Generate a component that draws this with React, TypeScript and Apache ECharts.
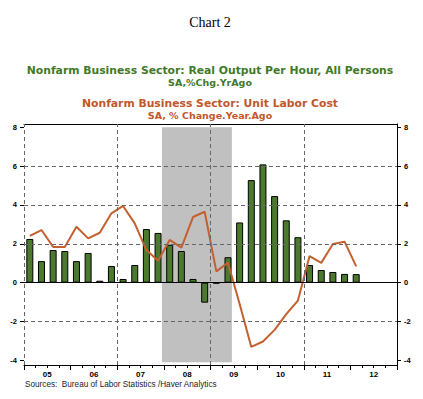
import React, { useEffect, useRef } from 'react';
import * as echarts from 'echarts';

const yearLabels = ['05', '06', '07', '08', '09', '10', '11', '12'];
const quarterLabels = yearLabels.flatMap((y) => ['Q1', 'Q2', 'Q3', 'Q4'].map((q) => `20${y}${q}`));

// Nonfarm Business Sector: Real Output Per Hour, All Persons (SA, % Chg Yr Ago)
const outputPerHour = [
  2.25, 1.11, 1.68, 1.63,
  1.11, 1.53, 0.10, 0.86,
  0.19, 0.91, 2.76, 2.56,
  1.95, 1.63, 0.19, -1.03,
  -0.05, 1.31, 3.10, 5.28,
  6.09, 4.46, 3.21, 2.34,
  0.91, 0.65, 0.55, 0.45,
  0.44,
];

// Nonfarm Business Sector: Unit Labor Cost (SA, % Change Year Ago)
const unitLaborCost = [
  2.41, 2.71, 1.84, 1.84,
  2.88, 2.28, 2.57, 3.57,
  3.95, 3.05, 1.68, 1.13,
  2.20, 1.80, 3.38, 3.65,
  0.58, 1.03, -1.10, -3.31,
  -3.03, -2.43, -1.62, -0.92,
  1.37, 1.02, 1.99, 2.11,
  0.84,
];

const yTickValues = [-4, -2, 0, 2, 4, 6, 8];
const dashedGridY = [-2, 2, 4, 6];
const dashedGridX = [0, 8, 16, 24]; // quarter-boundary positions: 2005, 2007, 2009, 2011
const recessionStart = [2007, 12];
const recessionEnd = [2009, 6];

const toQuarterPos = (ym: number[]) => (ym[0] - 2005) * 4 + (ym[1] - 0.5) / 3;

const GREEN = '#4b7a2f';
const ORANGE = '#c4602f';

export default function App() {
  const ref = useRef<HTMLDivElement>(null);

  useEffect(() => {
    if (!ref.current) return;
    const chart = echarts.init(ref.current, undefined, { renderer: 'svg' });
    const labelFont = {
      color: '#000',
      fontWeight: 'bold' as const,
      fontSize: 8,
      fontFamily: '"Liberation Sans", Arial, sans-serif',
    };
    const yAxisBase = {
      type: 'value' as const,
      min: -4.24,
      max: 8.17,
      splitLine: { show: false },
      axisTick: {
        show: true,
        inside: false,
        length: 4,
        customValues: yTickValues,
        lineStyle: { color: '#000', width: 1 },
      },
      axisLabel: { ...labelFont, fontSize: 7.5, margin: 7, customValues: yTickValues },
    };

    chart.setOption({
      animation: false,
      backgroundColor: '#fff',
      grid: { left: 24, right: 26, top: 124, bottom: 34, containLabel: false },
      xAxis: [
        {
          type: 'category',
          data: quarterLabels,
          position: 'bottom',
          boundaryGap: true,
          axisLine: { show: true, onZero: false, lineStyle: { color: '#000', width: 1 } },
          axisTick: { show: true, interval: 0, length: 3, lineStyle: { color: '#000' } },
          axisLabel: { show: false },
          splitLine: { show: false },
        },
        {
          type: 'category',
          data: yearLabels,
          position: 'bottom',
          boundaryGap: true,
          axisLine: { show: false, onZero: false },
          axisTick: { show: true, interval: 0, length: 5, lineStyle: { color: '#000' } },
          axisLabel: { ...labelFont, interval: 0, margin: 5 },
          splitLine: { show: false },
        },
        {
          type: 'value',
          min: 0,
          max: quarterLabels.length,
          position: 'top',
          axisLine: { show: true, onZero: false, lineStyle: { color: '#000', width: 1 } },
          axisTick: { show: false },
          axisLabel: { show: false },
          splitLine: { show: false },
        },
      ],
      yAxis: [
        {
          ...yAxisBase,
          position: 'left',
          axisLine: { show: false },
        },
        {
          ...yAxisBase,
          position: 'right',
          axisLine: { show: true, onZero: false, lineStyle: { color: '#000', width: 1 } },
        },
      ],
      series: [
        {
          name: 'recession',
          type: 'line',
          xAxisIndex: 2,
          yAxisIndex: 0,
          data: [],
          z: 1,
          silent: true,
          markArea: {
            silent: true,
            itemStyle: { color: '#c0c0c0', opacity: 1 },
            data: [[
              { xAxis: toQuarterPos(recessionStart), yAxis: 8 },
              { xAxis: toQuarterPos(recessionEnd), yAxis: -4.1 },
            ]],
          },
        },
        {
          name: 'grid',
          type: 'line',
          xAxisIndex: 2,
          yAxisIndex: 0,
          data: [],
          z: 2,
          silent: true,
          markLine: {
            silent: true,
            symbol: 'none',
            label: { show: false },
            data: [
              ...dashedGridY.map((v) => ({
                yAxis: v,
                lineStyle: { color: '#666', width: 1, type: [4, 3] },
              })),
              ...dashedGridX.map((v) => ({
                xAxis: v,
                lineStyle: { color: '#666', width: 1, type: [4, 3] },
              })),
              { yAxis: 0, lineStyle: { color: '#000', width: 1, type: 'solid' } },
            ],
          },
        },
        {
          name: 'Real Output Per Hour',
          type: 'bar',
          xAxisIndex: 0,
          yAxisIndex: 0,
          data: outputPerHour,
          barWidth: 7,
          z: 3,
          itemStyle: { color: GREEN, borderColor: '#000', borderWidth: 1 },
        },
        {
          name: 'Unit Labor Cost',
          type: 'line',
          xAxisIndex: 0,
          yAxisIndex: 0,
          data: unitLaborCost,
          symbol: 'none',
          z: 4,
          lineStyle: { color: ORANGE, width: 2 },
        },
      ],
      graphic: [
        {
          type: 'text',
          x: 210,
          y: 22,
          style: {
            text: 'Chart 2',
            font: '14px "Liberation Serif", "Times New Roman", serif',
            fill: '#000',
            textAlign: 'center',
            textVerticalAlign: 'middle',
          },
        },
        {
          type: 'text',
          x: 210,
          y: 70.5,
          style: {
            text: 'Nonfarm Business Sector: Real Output Per Hour, All Persons',
            font: 'bold 10.8px "DejaVu Sans", sans-serif',
            fill: '#3f7a2a',
            textAlign: 'center',
            textVerticalAlign: 'middle',
          },
        },
        {
          type: 'text',
          x: 210,
          y: 82,
          style: {
            text: 'SA,%Chg.YrAgo',
            font: 'bold 9.5px "DejaVu Sans", sans-serif',
            fill: '#3f7a2a',
            textAlign: 'center',
            textVerticalAlign: 'middle',
          },
        },
        {
          type: 'text',
          x: 210,
          y: 103.5,
          style: {
            text: 'Nonfarm Business Sector: Unit Labor Cost',
            font: 'bold 10.8px "DejaVu Sans", sans-serif',
            fill: '#c0582a',
            textAlign: 'center',
            textVerticalAlign: 'middle',
          },
        },
        {
          type: 'text',
          x: 210,
          y: 115,
          style: {
            text: 'SA, % Change.Year.Ago',
            font: 'bold 9.5px "DejaVu Sans", sans-serif',
            fill: '#c0582a',
            textAlign: 'center',
            textVerticalAlign: 'middle',
          },
        },
        {
          type: 'text',
          x: 25,
          y: 384,
          style: {
            text: 'Sources:  Bureau of Labor Statistics /Haver Analytics',
            font: '8.2px "Liberation Sans", Arial, sans-serif',
            fill: '#222',
            textAlign: 'left',
            textVerticalAlign: 'middle',
          },
        },
      ],
    });

    return () => chart.dispose();
  }, []);

  return (
    <div
      ref={ref}
      style={{ position: 'fixed', left: 0, top: 0, width: 423, height: 399 }}
    />
  );
}
